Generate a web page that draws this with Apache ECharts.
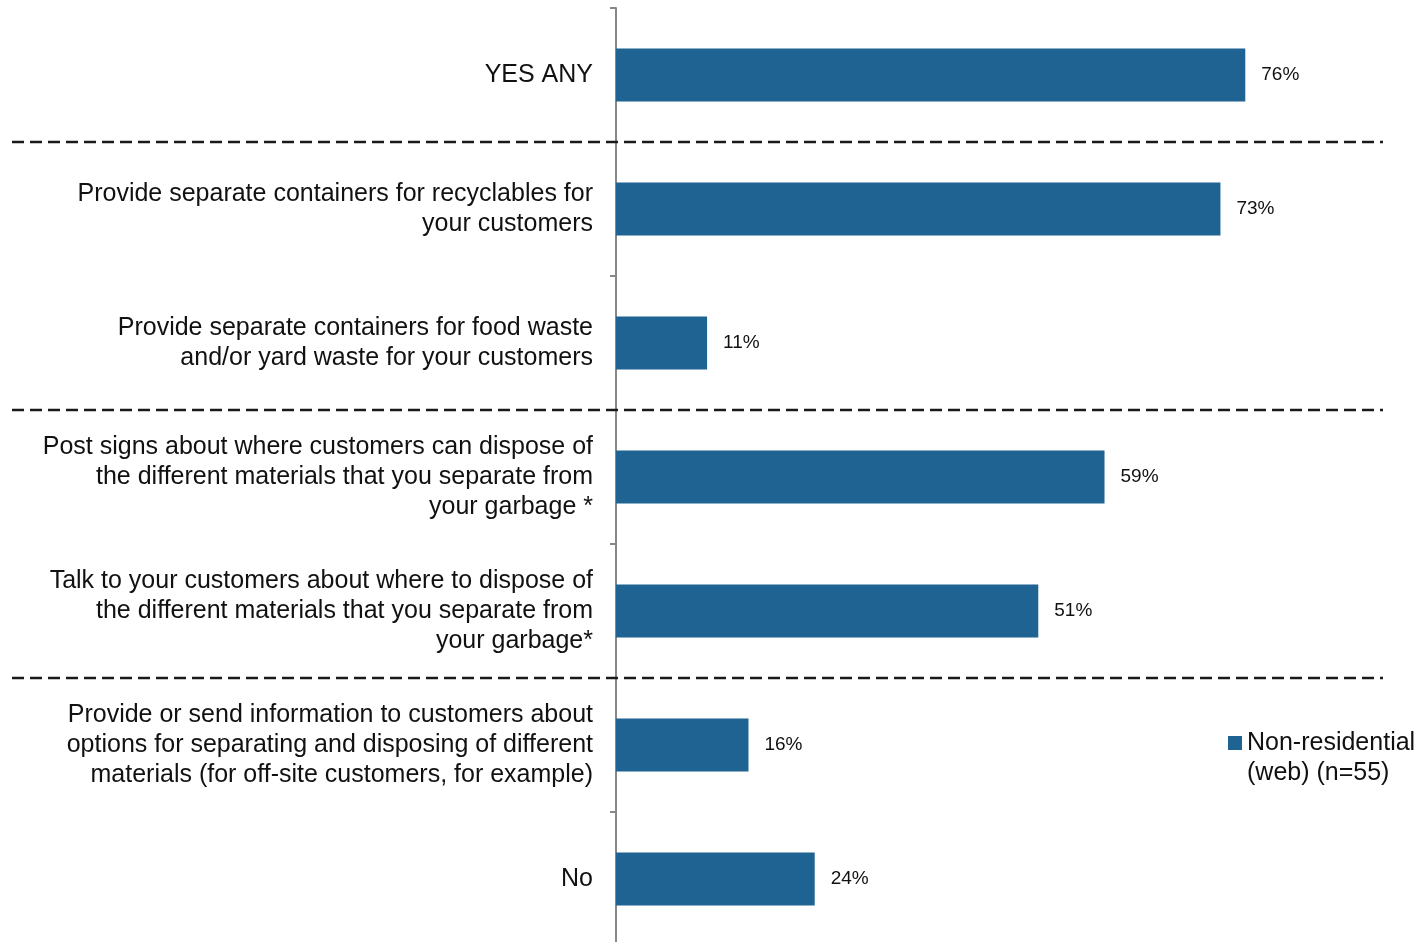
<html lang="en">
<head>
<meta charset="UTF-8" />
<script src="https://cdn.jsdelivr.net/npm/echarts@6/dist/echarts.min.js"></script>
<title>chart</title>
<style>
* { padding: 0; margin: 0; }
</style>
</head>
<body>
<div id="main" style="width:1423px;height:942px"></div>
<script>
// data
var categories = [
	"YES ANY",
	"Provide separate containers for recyclables for\nyour customers",
	"Provide separate containers for food waste\nand/or yard waste for your customers",
	"Post signs about where customers can dispose of\nthe different materials that you separate from\nyour garbage *",
	"Talk to your customers about where to dispose of\nthe different materials that you separate from\nyour garbage*",
	"Provide or send information to customers about\noptions for separating and disposing of different\nmaterials (for off-site customers, for example)",
	"No"
]
var values = [76, 73, 11, 59, 51, 16, 24]
var seriesName = "Non-residential\n(web) (n=55)"
// separators drawn after these category indexes
var groupBreaks = [0, 2, 4]

var font = "Liberation Sans"
var myChart = echarts.init(document.getElementById("main"))

var option = {
	backgroundColor: "#fff",
	animation: false,
	textStyle: { fontFamily: font },
	grid: { left: 616, top: 8, width: 828, height: 938, outerBoundsMode: "none", containLabel: false },
	legend: {
		left: 1223,
		top: 693,
		icon: "rect",
		itemWidth: 14,
		itemHeight: 14,
		itemGap: 6,
		// blank first line so the square lines up with the first text line
		formatter: function (name) {
			return " \n" + name
		},
		textStyle: { fontSize: 25, color: "#111", fontFamily: font, lineHeight: 30 },
		data: [seriesName]
	},
	xAxis: {
		type: "value",
		min: 0,
		max: 100,
		show: false
	},
	yAxis: {
		type: "category",
		inverse: true,
		data: categories,
		axisLine: { show: true, lineStyle: { color: "#888", width: 2 } },
		axisTick: { show: true, length: 6, lineStyle: { color: "#888", width: 2 } },
		axisLabel: {
			margin: 23,
			fontSize: 25,
			lineHeight: 30,
			color: "#111",
			align: "right",
			fontFamily: font
		}
	},
	series: [
		{
			name: seriesName,
			type: "bar",
			data: values,
			barWidth: 53,
			itemStyle: { color: "#1F6392" },
			label: {
				show: true,
				position: "right",
				distance: 16,
				fontSize: 19,
				color: "#111",
				fontFamily: font,
				formatter: "{c}%"
			}
		}
	]
}
myChart.setOption(option)

// dashed group separators, placed on category boundaries
var lines = groupBreaks.map(function (i) {
	var a = myChart.convertToPixel({ yAxisIndex: 0 }, i)
	var b = myChart.convertToPixel({ yAxisIndex: 0 }, i + 1)
	var y = Math.round((a + b) / 2)
	return {
		type: "line",
		shape: { x1: 12, y1: y, x2: 1383, y2: y },
		style: { stroke: "#1a1a1a", lineWidth: 2.5, lineDash: [12, 6] },
		z: 10
	}
})
myChart.setOption({ graphic: lines })
</script>
</body>
</html>
